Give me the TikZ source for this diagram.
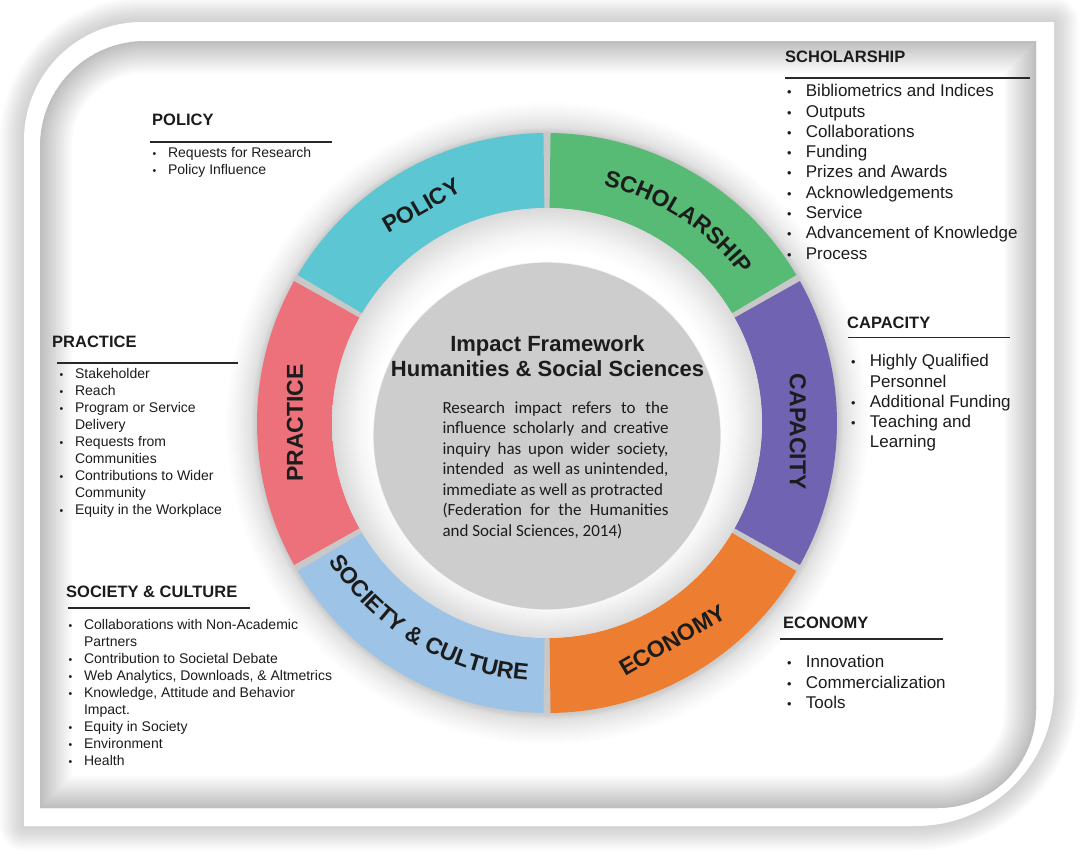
\documentclass[tikz,border=0pt]{standalone}
\usepackage{fontspec}
\usepackage{graphicx}
\setmainfont{Liberation Sans}
\newfontfamily\calib{Carlito}
\usetikzlibrary{positioning, calc, decorations.text}

\definecolor{PolicyTeal}{RGB}{92,199,211}
\definecolor{ScholGreen}{RGB}{87,187,118}
\definecolor{CapPurple}{RGB}{112,99,178}
\definecolor{EconOrange}{RGB}{237,125,49}
\definecolor{SocBlue}{RGB}{157,195,230}
\definecolor{PracRed}{RGB}{237,113,122}
\definecolor{DiscGray}{RGB}{205,205,205}
\definecolor{RingGray}{RGB}{218,218,218}
\definecolor{SepGray}{RGB}{200,200,200}
\definecolor{RuleGray}{RGB}{40,40,40}
\definecolor{TextDark}{RGB}{28,28,28}

% 25bp is the rim of the shaded circle
\pgfdeclareradialshading{ringfade}{\pgfpointorigin}{color(0bp)=(white); color(20bp)=(white); color(22bp)=(white!96!black); color(25bp)=(RingGray); color(50bp)=(RingGray)}
\pgfdeclareradialshading{ringglow}{\pgfpointorigin}{color(0bp)=(black!20); color(22.6bp)=(black!20); color(23bp)=(black!12); color(24bp)=(black!5); color(25bp)=(white); color(50bp)=(white)}

% bullet items
\newcommand{\itm}{\makebox[1.1em][l]{\scalebox{.75}{\textbullet}}}
\newcommand{\cnt}{\hspace*{1.1em}}
\newcommand{\seglabel}{\fontsize{23}{23}\selectfont\bfseries\color{TextDark}}

% frame outlines
\newcommand{\outerframe}{(24,-140) arc[start angle=180, end angle=90, radius=118] -- (1054,-22) -- (1054,-688) arc[start angle=0, end angle=-90, radius=138] -- (24,-826) -- cycle}
\newcommand{\panelframe}{(40,-146) arc[start angle=180, end angle=90, radius=105] -- (1036,-41) -- (1036,-710) arc[start angle=0, end angle=-90, radius=98] -- (40,-808) -- cycle}

\begin{document}
\begin{tikzpicture}[
  x=1pt, y=1pt,
  head/.style={anchor=west, inner sep=0pt, font=\fontsize{16.5}{18}\selectfont\bfseries, text=TextDark},
  lst/.style={anchor=north west, inner sep=0pt, align=left, text=TextDark},
  lstbig/.style={lst, font=\fontsize{17}{20.3}\selectfont},
  lstsmall/.style={lst, font=\fontsize{14}{17}\selectfont},
  hrule/.style={draw=RuleGray, line width=1.4pt},
  seg/.style={inner sep=0pt, font=\seglabel},
  title/.style={inner sep=0pt, align=center, text=TextDark, font=\fontsize{22}{25}\selectfont\bfseries},
  desc/.style={inner sep=0pt, text width=226pt, align=justify, text=TextDark, font=\calib\fontsize{17}{20.5}\selectfont}
]
  \useasboundingbox (0,0) rectangle (1080,-855);

  % frame with shadow
  \foreach \w in {4,8,...,48}
    \draw[line width=\w pt, black, opacity=.016, line join=round] \outerframe;
  \fill[white] \outerframe;
  \fill[white] \panelframe;
  \begin{scope}
    \clip \panelframe;
    \foreach \w in {4,8,...,64}
      \draw[line width=\w pt, black, opacity=.015] \panelframe;
  \end{scope}

  % ring
  \coordinate (c) at (547,-423);
  \shade[shading=ringglow] (c) circle[radius=322];
  \fill[SepGray, even odd rule] (c) circle[radius=290] (c) circle[radius=215];
  \foreach \a/\col [evaluate=\a as \s using \a+0.7, evaluate=\a as \e using \a+59.3]
    in {90/PolicyTeal, 30/ScholGreen, -30/CapPurple, -90/EconOrange, 210/SocBlue, 150/PracRed}
    \fill[\col] ($(c)+(\s:290)$) arc[start angle=\s, end angle=\e, radius=290]
      -- ($(c)+(\e:215)$) arc[start angle=\e, end angle=\s, radius=215] -- cycle;
  \shade[shading=ringfade] (c) circle[radius=215];
  \fill[DiscGray] (547,-436) circle[radius=174];
  \draw[white, opacity=.7, line width=1.2pt] (547,-436) circle[radius=174];

  % ring labels
  \node[seg, rotate=30] (polseg) at ($(c)+(120:251)$) {POLICY};
  \node[seg, rotate=30] (ecoseg) at ($(c)+(300:251)$) {ECONOMY};
  \node[seg, rotate=90] (praseg) at ($(c)+(180:252)$) {PRACTICE};
  \node[seg, rotate=-90] (capseg) at ($(c)+(-2:251)$) {CAPACITY};
  \path[decorate, decoration={text along path, text align=center,
    text={|\seglabel|SCHOLARSHIP}}]
    ($(c)+(95:244)$) arc[start angle=95, end angle=19, radius=244];
  \path[decorate, decoration={text along path, text align=center,
    text={|\seglabel|SOCIETY {\&} CULTURE}}]
    ($(c)+(198:258)$) arc[start angle=198, end angle=280, radius=258];

  % centre
  \node[title] (title) at (547.5,-356.5) {Impact Framework\\Humanities \& Social Sciences};
  \node[desc, below=21.6pt of title, xshift=8pt] (desc) {\strut Research impact refers to the\linebreak
    influence scholarly and creative\linebreak inquiry has upon wider society,\linebreak
    intended\ \ as well as unintended,\linebreak immediate as well as protracted\newline
    (Federation for the Humanities\linebreak and Social Sciences, 2014)};

  % scholarship
  \node[head] (schhead) at (785,-56.5) {SCHOLARSHIP};
  \draw[hrule] ([yshift=-21.5pt]schhead.west) -- ++(245,0);
  \node[lstbig] (schlist) at (787,-82.3) {\strut\itm Bibliometrics and Indices\\ \itm Outputs\\
    \itm Collaborations\\ \itm Funding\\ \itm Prizes and Awards\\ \itm Acknowledgements\\
    \itm Service\\ \itm Advancement of Knowledge\\ \itm Process};

  % policy
  \node[head] (polhead) at (152,-119.5) {POLICY};
  \draw[hrule] ([shift={(-2pt,-22.5pt)}]polhead.west) -- ++(182,0);
  \node[lstsmall] (pollist) at (152.5,-145.8) {\strut\itm Requests for Research\\ \itm Policy Influence};

  % practice
  \node[head] (prahead) at (52,-341.5) {PRACTICE};
  \draw[hrule] ([shift={(5pt,-21.5pt)}]prahead.west) -- ++(181,0);
  \node[lstsmall] (pralist) at (59.5,-366.8) {\strut\itm Stakeholder\\ \itm Reach\\
    \itm Program or Service\\ \cnt Delivery\\ \itm Requests from\\ \cnt Communities\\
    \itm Contributions to Wider\\ \cnt Community\\ \itm Equity in the Workplace};

  % society & culture
  \node[head] (sochead) at (66,-591.5) {SOCIETY \& CULTURE};
  \draw[hrule] ([shift={(2pt,-16.5pt)}]sochead.west) -- ++(182,0);
  \node[lstsmall] (soclist) at (68.5,-617.8) {\strut\itm Collaborations with Non-Academic\\ \cnt Partners\\
    \itm Contribution to Societal Debate\\ \itm Web Analytics, Downloads, \& Altmetrics\\
    \itm Knowledge, Attitude and Behavior\\ \cnt Impact.\\ \itm Equity in Society\\
    \itm Environment\\ \itm Health};

  % capacity
  \node[head] (caphead) at (847,-322.5) {CAPACITY};
  \draw[hrule] ([shift={(1pt,-15pt)}]caphead.west) -- ++(162,0);
  \node[lstbig] (caplist) at (851,-352.3) {\strut\itm Highly Qualified\\ \cnt Personnel\\
    \itm Additional Funding\\ \itm Teaching and\\ \cnt Learning};

  % economy
  \node[head] (ecohead) at (783,-623) {ECONOMY};
  \draw[hrule] ([shift={(-3pt,-16pt)}]ecohead.west) -- ++(163,0);
  \node[lstbig] (ecolist) at (787,-653.3) {\strut\itm Innovation\\ \itm Commercialization\\ \itm Tools};
\end{tikzpicture}
\end{document}
